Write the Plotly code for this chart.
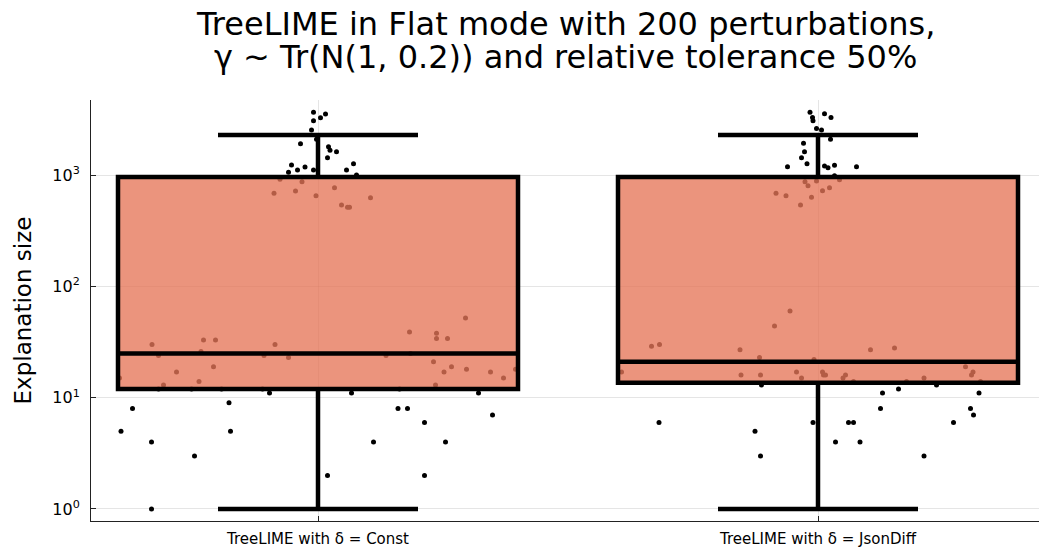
import plotly.graph_objects as go

# ---- data ----
categories = ["TreeLIME with δ = Const", "TreeLIME with δ = JsonDiff"]
cat_pos = [0, 1]

# box statistics
q1 = [12, 13.6]
median = [25, 21]
q3 = [962, 962]
lower_fence = [1, 1]
upper_fence = [2290, 2290]

# jittered observations: x offset from category centre, value
const_offsets = [
    -0.394, -0.371, -0.333, -0.333, -0.247, -0.178, -0.175, -0.097, 0.019, 0.067, 0.111, 0.160, 0.179, 0.213, 0.213, 0.255, 0.321, 0.349,
    -0.319, -0.253, -0.193, -0.111, 0.163,
    -0.397, -0.332, -0.319, -0.309, -0.283, -0.238, -0.234, -0.229, -0.209, -0.205, -0.108, -0.086, -0.059, 0.136, 0.183, 0.185, 0.231, 0.235, 0.237, 0.237, 0.252, 0.259, 0.267, 0.295, 0.297, 0.345, 0.371, 0.395,
    -0.009, 0.015, 0.005, -0.009, -0.013, -0.003, -0.035, 0.021, 0.024, 0.037, 0.019, -0.053, 0.071, -0.041, -0.026, -0.009, 0.057, -0.059, 0.077,
    -0.076, -0.032, 0.033, -0.088, -0.045, -0.004, 0.105, 0.047, 0.059, 0.063,
]
const_values = [
    5, 8, 4, 1, 3, 9, 5, 11, 2, 11, 4, 8, 8, 6, 2, 4, 11, 7,
    12, 12, 12, 12, 12,
    15, 30, 24, 13, 17, 14, 26, 33, 19, 33, 24, 30, 23, 24, 39, 25, 21, 13, 38, 34, 17, 34, 19, 52, 18, 17, 15, 18,
    3665, 3540, 3280, 3080, 2540, 2100, 1915, 1800, 1670, 1620, 1430, 1233, 1265, 1110, 1183, 1110, 1110, 1060, 1000,
    917, 873, 770, 686, 720, 653, 627, 538, 514, 514,
]
jsondiff_offsets = [
    -0.016, 0.013, 0.026, -0.011, -0.010, -0.003, 0.007, 0.025, -0.029, -0.027, -0.033, -0.022, -0.061, 0.013, 0.020, 0.033, 0.077, 0.033,
    -0.026, -0.003, -0.020, 0.023, 0.043, 0.009, -0.084, -0.064, -0.013, -0.035, -0.056,
    -0.087, -0.333, -0.317, -0.156, -0.117, -0.008, 0.105, 0.153, -0.393, -0.154, -0.115, -0.043, -0.033, 0.009, 0.011, 0.015, 0.050, 0.055, 0.071, 0.177, 0.212, 0.295, 0.310, 0.307, 0.325,
    -0.113, 0.237, 0.161, 0.129, 0.322, 0.125, 0.305, 0.311, -0.318, -0.010, 0.061, 0.071, 0.271, -0.126, 0.035, 0.084, -0.115, 0.212,
]
jsondiff_values = [
    3665, 3560, 3300, 3290, 3080, 2630, 2540, 2100, 1930, 1620, 1430, 1265, 1190, 1207, 1166, 1225, 1190, 988,
    873, 885, 803, 770, 910, 724, 686, 653, 632, 538, 60,
    44, 29, 30, 27, 23, 22, 27, 28, 17, 16, 16, 17, 15, 17, 16, 16, 15, 16, 14, 14, 15, 19, 17, 16, 14,
    13, 13, 12, 11, 11, 8, 8, 7, 6, 6, 6, 6, 6, 5, 4, 4, 3, 3,
]

y_tickvals = [1, 10, 100, 1000]
y_ticktext = ["10<sup>0</sup>", "10<sup>1</sup>", "10<sup>2</sup>", "10<sup>3</sup>"]

title_lines = ["TreeLIME in Flat mode with 200 perturbations,",
               "γ ~ Tr(N(1, 0.2)) and relative tolerance 50%"]

# ---- figure ----
FONT = "DejaVu Sans"
xr = [-0.454, 1.442]
yr = [-0.108, 3.675]
W, H = 1039, 551
ML, MR, MT, MB = 91, 0, 100, 30

fig = go.Figure()

xs = [cat_pos[0] + o for o in const_offsets] + [cat_pos[1] + o for o in jsondiff_offsets]
ys = const_values + jsondiff_values
fig.add_trace(go.Scatter(
    x=xs, y=ys, mode="markers",
    marker=dict(color="black", size=5, line=dict(width=0)),
    showlegend=False, hoverinfo="skip",
))

fig.add_trace(go.Box(
    x=cat_pos, q1=q1, median=median, q3=q3,
    lowerfence=lower_fence, upperfence=upper_fence,
    width=0.8, whiskerwidth=0.5,
    fillcolor="rgba(229,118,88,0.78)",
    line=dict(color="black", width=4.5),
    xaxis="x2", yaxis="y2", showlegend=False,
))

axis_common = dict(
    showline=True, linecolor="#222", linewidth=1,
    ticks="inside", ticklen=5, tickcolor="#222",
    showgrid=True, gridcolor="rgba(0,0,0,0.1)", gridwidth=1,
    zeroline=False, mirror=False,
)

plot_h = H - MT - MB
def paper_y(px):
    return (H - MB - px) / plot_h

annotations = []
for line, cy in zip(title_lines, [24, 57]):
    annotations.append(dict(
        text=line, xref="paper", yref="paper", x=0.5, y=paper_y(cy),
        xanchor="center", yanchor="middle", showarrow=False,
        font=dict(size=32, family=FONT, color="black"),
    ))

fig.update_layout(
    width=W, height=H,
    margin=dict(l=ML, r=MR, t=MT, b=MB),
    paper_bgcolor="white", plot_bgcolor="white",
    font=dict(family=FONT, color="black"),
    annotations=annotations,
    xaxis=dict(range=xr, tickvals=cat_pos, ticktext=categories,
               tickfont=dict(size=15), ticklabelstandoff=4, **axis_common),
    yaxis=dict(type="log", range=yr, tickvals=y_tickvals, ticktext=y_ticktext,
               tickfont=dict(size=16), ticklabelstandoff=7,
               title=dict(text="Explanation size", font=dict(size=23), standoff=14),
               **axis_common),
    xaxis2=dict(range=xr, overlaying="x", visible=False),
    yaxis2=dict(type="log", range=yr, overlaying="y", visible=False),
)

fig.write_html("out.html")
